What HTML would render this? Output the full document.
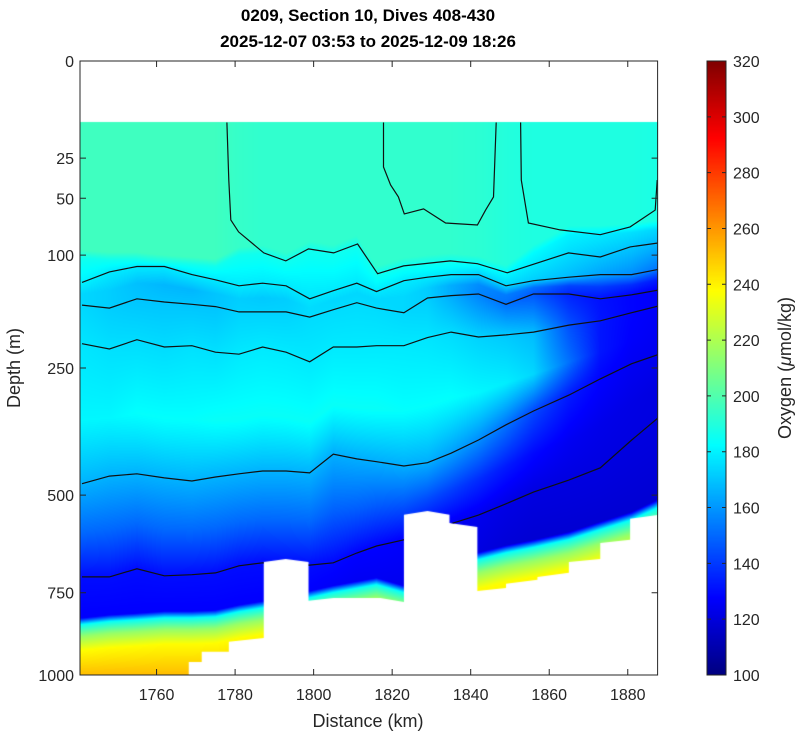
<!DOCTYPE html>
<html><head><meta charset="utf-8">
<style>
html,body{margin:0;padding:0;background:#fff;}
#wrap{position:relative;width:800px;height:734px;overflow:hidden;font-family:"Liberation Sans",Arial,sans-serif;}
canvas,svg{position:absolute;left:0;top:0;}
</style></head>
<body>
<div id="wrap">
<canvas id="field" width="800" height="734"></canvas>
<svg id="plot" width="800" height="734">
  <text x="368" y="21" text-anchor="middle" font-size="17" font-weight="bold" fill="#000">0209, Section 10, Dives 408-430</text>
  <text x="368" y="47" text-anchor="middle" font-size="17" font-weight="bold" fill="#000">2025-12-07 03:53 to 2025-12-09 18:26</text>
  <text x="368" y="727" text-anchor="middle" font-size="18" fill="#262626">Distance (km)</text>
  <text transform="translate(20,368) rotate(-90)" text-anchor="middle" font-size="18" fill="#262626">Depth (m)</text>
  <text transform="translate(791,368) rotate(-90)" text-anchor="middle" font-size="18" fill="#262626">Oxygen (<tspan font-style="italic">μ</tspan>mol/kg)</text>
  <defs><clipPath id="dataClip"><polygon id="clipPoly"/></clipPath></defs>
  <g id="lines" clip-path="url(#dataClip)"></g>
  <g id="axes"></g>
</svg>
</div>
<script>
// ---------- data ----------
const colKm = [1741,1748,1755,1762,1769,1775,1781,1787,1793,1799,1805,1811,1816,1823,1829,1835,1842,1849,1856,1865,1873,1881,1888];
const lineB = [130,118,112,112,121,127,134,131,134,150,140,131,141,128,124,121,121,134,128,124,121,121,115];
const lineC = [158,162,150,154,157,160,167,167,167,174,164,155,162,168,149,146,144,157,144,144,150,145,139];
const lineD = [212,220,206,217,215,225,228,217,225,240,217,217,215,215,203,195,202,199,195,185,179,168,159];
const lineE = [474,457,452,461,468,459,452,446,446,450,410,420,426,435,428,408,381,351,325,296,268,243,228];
const lineG = [706,706,684,703,700,695,676,668,671,674,668,642,624,608,586,568,547,520,493,466,439,381,336];
const lineA1Km = [1777.9,1778.4,1778.9,1780.9,1787.3,1792.9,1798.7,1805.1,1811.2,1816.3,1822.9,1834.8,1841.7,1849.3,1864.9,1873.0,1880.6,1887.8];
const lineA1 = [10,37.6,67,77.5,97.7,106,93.7,97.7,88.8,120,111.4,106,109,119,97.7,101.9,91.7,87.8];
const lineA2Km = [1817.8,1817.8,1819.6,1821.6,1823.1,1828.0,1833.6,1841.7,1843.8,1845.8,1846.5];
const lineA2 = [10,29.8,40.8,49,62,58,69.6,71.3,59,49,10];
const lineA3Km = [1852.7,1852.9,1854.7,1862.8,1873,1880.6,1887,1887.5];
const lineA3 = [10,37.6,69.6,75.7,80,73,59,37.6];
// field values (umol/kg) per column at layer positions
const mixBase = [103,105,105,108,110,112,100,98,106,94,98,89,120,111,108,106,109,119,98,80,80,78,75];
const vSurf = [196,196,196,196,196,196,194,193,193,193,193,193,193,193,193,193,192,190,189,189,189,189,188];
const vMix  = [186,186,186,186,186,186,186,186,186,186,186,186,186,186,186,186,184,182,182,180,178,176,174];
const vB  = [180,178,178,178,178,178,178,178,178,177,178,178,178,178,178,177,172,174,172,168,163,158,152];
const vBC = [174,172,169,167,167,170,172,171,172,175,174,174,174,174,172,165,158,154,152,142,140,137,133];
const vC  = [174,172,170,170,170,170,173,173,173,175,175,175,175,174,172,165,156,152,146,135,131,128,126];
const vD  = [177,176,175,175,176,176,178,178,178,178,178,178,178,178,177,175,173,171,168,145,132,128,126];
const vDE = [181,181,183,183,183,184,184,184,184,184,184,184,184,183,183,183,181,179,174,152,132,127,125];
const vE  = [166,166,166,166,166,166,166,166,166,166,165,165,165,165,165,162,158,152,143,133,128,125,124];
const vEG = [150,150,150,150,150,150,150,150,150,150,148,148,147,146,144,141,137,133,129,125,123,122,121];
const vG  = [130,130,130,130,130,130,130,130,130,130,129,128,128,127,126,125,124,122,121,121,121,121,121];
const warmTop = [843,834,829,823,823,820,805,794,790,765,750,738,728,750,700,680,660,642,628,608,583,559,528];
const bottomKm = [1740.5,1768.2,1768.2,1771.5,1771.5,1778.4,1778.4,1787.3,1787.3,1792.9,1798.7,1798.7,1805.1,1817,1823,1823,1829,1834.6,1834.6,1841.7,1841.7,1849,1849,1857,1857,1865,1865,1873,1873,1880.6,1880.6,1887.6];
const bottomDepth = [1000,1000,958,958,926,926,895,883,666,658,666,773,765,765,776,546,537,546,566,576,745,737,725,714,706,695,666,658,616,608,556,547];
const xTicks = [1760,1780,1800,1820,1840,1860,1880];
const yTicks = [0,25,50,100,250,500,750,1000];
const cTicks = [100,120,140,160,180,200,220,240,260,280,300,320];
const topDepth = 10;

// ---------- scales ----------
const X0=80, X1=657.6, Y0=61, Y1=675;
const kmMin=1740.5, kmMax=1887.6;
const xOf = km => X0 + (km-kmMin)*(X1-X0)/(kmMax-kmMin);
const kmOf = x => kmMin + (x-X0)*(kmMax-kmMin)/(X1-X0);
const yK = (Y1-Y0)/Math.sqrt(1000);
const yOf = d => Y0 + yK*Math.sqrt(Math.max(0,d));
const depthOf = y => Math.pow(Math.max(0,(y-Y0)/yK),2);
const cMin=100, cMax=320;
const cyOf = v => Y1 - (v-cMin)*(Y1-Y0)/(cMax-cMin);

function interp(xs, ys, x){
  if (x<=xs[0]) return ys[0];
  for (let i=1;i<xs.length;i++){ if (x<=xs[i]) { const t=(x-xs[i-1])/(xs[i]-xs[i-1]||1); return ys[i-1]+t*(ys[i]-ys[i-1]); } }
  return ys[ys.length-1];
}
function clamp(a){return a<0?0:(a>1?1:a);}
function jet(t){
  t=clamp(t);
  return [clamp(Math.min(4*t-1.5,-4*t+4.5))*255, clamp(Math.min(4*t-0.5,-4*t+3.5))*255, clamp(Math.min(4*t+0.5,-4*t+2.5))*255];
}

// ---------- field ----------
const cv=document.getElementById('field'); const ctx=cv.getContext('2d');
const px0=80, px1=658, py0=Math.round(yOf(topDepth)), py1=675;
const img=ctx.createImageData(px1-px0, py1-py0);
for (let px=px0; px<px1; px++){
  const km=kmOf(px+0.5);
  const g=a=>interp(colKm,a,km);
  const mb=g(mixBase), B=g(lineB), C=g(lineC), D=g(lineD), E=g(lineE), G=g(lineG), W=g(warmTop);
  const ds=[topDepth, mb-8, mb, Math.max(B,mb+2), (B+C)/2, C, D, (D+E)/2, E, (E+G)/2, G, W-20, W, W+35, W+80, Math.max(1000,W+81)];
  const vs=[g(vSurf),g(vSurf),g(vMix),g(vB),g(vBC),g(vC),g(vD),g(vDE),g(vE),g(vEG),g(vG),g(vG)-3,185,215,238,252];
  for (let i=1;i<ds.length;i++) if (ds[i]<=ds[i-1]) ds[i]=ds[i-1]+0.5;
  for (let py=py0; py<py1; py++){
    const v=interp(ds,vs,depthOf(py+0.5));
    const c=jet((v-cMin)/(cMax-cMin));
    const k=((py-py0)*(px1-px0)+(px-px0))*4;
    img.data[k]=c[0]; img.data[k+1]=c[1]; img.data[k+2]=c[2]; img.data[k+3]=255;
  }
}
ctx.putImageData(img, px0, py0);
// white no-data mask below bottom
ctx.fillStyle='#fff'; ctx.beginPath();
ctx.moveTo(xOf(bottomKm[0]), Y1+5);
for (let i=0;i<bottomKm.length;i++) ctx.lineTo(xOf(bottomKm[i]), yOf(bottomDepth[i]));
ctx.lineTo(X1+1, Y1+5); ctx.closePath(); ctx.fill();
// colorbar
for (let y=61; y<675; y++){
  const v=cMin+(Y1-(y+0.5))*(cMax-cMin)/(Y1-Y0);
  const c=jet((v-cMin)/(cMax-cMin));
  ctx.fillStyle='rgb('+c.map(Math.round).join(',')+')';
  ctx.fillRect(707,y,19,1);
}

// ---------- svg ----------
const NS='http://www.w3.org/2000/svg';
const axes=document.getElementById('axes');
const linesG=document.getElementById('lines');
function mk(tag, attrs, parent){ const e=document.createElementNS(NS,tag); for (const k in attrs) e.setAttribute(k,attrs[k]); parent.appendChild(e); return e; }

let cp=[[xOf(kmMin),yOf(topDepth)],[xOf(kmMax),yOf(topDepth)]];
for (let i=bottomKm.length-1;i>=0;i--) cp.push([xOf(bottomKm[i]),yOf(bottomDepth[i])]);
document.getElementById('clipPoly').setAttribute('points', cp.map(p=>p.join(',')).join(' '));

function drawLine(kms, depths, name){
  const d=kms.map((k,i)=>(i?'L':'M')+xOf(k).toFixed(1)+','+yOf(depths[i]).toFixed(1)).join(' ');
  const p=mk('path',{d:d,fill:'none',stroke:'#111','stroke-width':1.2},linesG);
  
  
}
drawLine(lineA1Km,lineA1,'contour-a-left');
drawLine(lineA2Km,lineA2,'contour-a-middle');
drawLine(lineA3Km,lineA3,'contour-a-right');
drawLine(colKm,lineB,'contour-b');
drawLine(colKm,lineC,'contour-c');
drawLine(colKm,lineD,'contour-d');
drawLine(colKm,lineE,'contour-e');
drawLine(colKm,lineG,'contour-g');

const box=mk('rect',{x:X0,y:Y0,width:X1-X0,height:Y1-Y0,fill:'none',stroke:'#262626','stroke-width':1},axes);


xTicks.forEach(t=>{
  const x=xOf(t);
  const tk=mk('path',{d:`M${x},${Y1}V${Y1-6}M${x},${Y0}V${Y0+6}`,stroke:'#262626','stroke-width':1},axes);
  
  
  const lb=mk('text',{x:x,y:700,'text-anchor':'middle','font-size':16,fill:'#262626'},axes);
  lb.textContent=t;
  
  
});
yTicks.forEach(t=>{
  const y=yOf(t);
  const tk=mk('path',{d:`M${X0},${y}H${X0+6}M${X1},${y}H${X1-6}`,stroke:'#262626','stroke-width':1},axes);
  
  
  const lb=mk('text',{x:74,y:y+6,'text-anchor':'end','font-size':16,fill:'#262626'},axes);
  lb.textContent=t;
  
  
});
const cb=mk('rect',{x:707,y:Y0,width:19,height:Y1-Y0,fill:'none',stroke:'#262626','stroke-width':1},axes);


cTicks.forEach(t=>{
  const y=cyOf(t);
  const tk=mk('path',{d:`M707,${y}h4M726,${y}h-4`,stroke:'#262626','stroke-width':1},axes);
  
  
  const lb=mk('text',{x:733,y:y+6,'font-size':16,fill:'#262626'},axes);
  lb.textContent=t;
  
  
});
</script>
</body></html>
